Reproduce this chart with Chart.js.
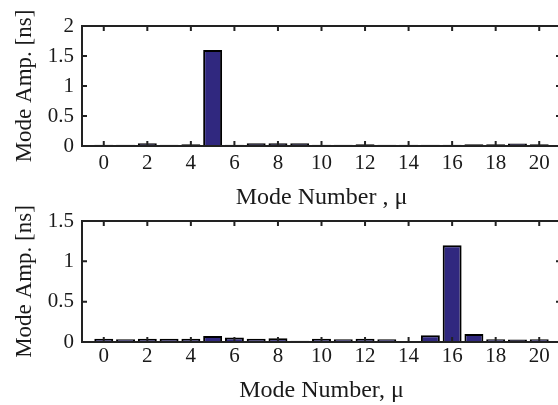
<!DOCTYPE html>
<html>
<head>
<meta charset="utf-8">
<script src="https://cdn.jsdelivr.net/npm/chart.js@4.4.1/dist/chart.umd.min.js"></script>
<style>
  html, body { margin: 0; padding: 0; background: #fff; }
  body { width: 558px; height: 405px; overflow: hidden; position: relative; }
  canvas { position: absolute; left: 0; }
  #chartTop { top: 0; }
  #chartBottom { top: 200px; }
</style>
</head>
<body>
<canvas id="chartTop" width="566" height="215"></canvas>
<canvas id="chartBottom" width="566" height="210"></canvas>
<script>
// mode numbers 0..20
const modes = [0, 1, 2, 3, 4, 5, 6, 7, 8, 9, 10, 11, 12, 13, 14, 15, 16, 17, 18, 19, 20];
// mode amplitudes [ns]
const ampTop = [0.02, 0.02, 0.045, 0.02, 0.03, 1.6, 0.02, 0.045, 0.045, 0.045, 0.02,
                0.02, 0.03, 0.02, 0.02, 0.02, 0.02, 0.03, 0.03, 0.04, 0.03];
const ampBottom = [0.04, 0.035, 0.04, 0.04, 0.04, 0.075, 0.055, 0.04, 0.045, 0.015, 0.04,
                   0.035, 0.04, 0.035, 0.01, 0.085, 1.2, 0.1, 0.035, 0.03, 0.035];
const xTicks = [0, 2, 4, 6, 8, 10, 12, 14, 16, 18, 20];
const yTicksTop = [0, 0.5, 1, 1.5, 2];
const yTicksBottom = [0, 0.5, 1, 1.5];

const textColor = '#1a1a1a';
const axisColor = '#222';
const barColor = '#30287f';

// matlab style box with ticks pointing inward on all four sides
const boxTicks = {
    id: 'boxTicks',
    afterDatasetsDraw(chart) {
        const ctx = chart.ctx;
        const a = chart.chartArea;
        const xs = chart.scales.x, ys = chart.scales.y;
        const len = 5;
        ctx.save();
        ctx.strokeStyle = axisColor;
        ctx.lineWidth = 2;
        ctx.beginPath();
        xs.ticks.forEach(t => {
            const px = xs.getPixelForValue(t.value);
            ctx.moveTo(px, a.bottom); ctx.lineTo(px, a.bottom - len);
            ctx.moveTo(px, a.top); ctx.lineTo(px, a.top + len);
        });
        ys.ticks.forEach(t => {
            const py = ys.getPixelForValue(t.value);
            ctx.moveTo(a.left, py); ctx.lineTo(a.left + len, py);
            ctx.moveTo(a.right, py); ctx.lineTo(a.right - len, py);
        });
        ctx.stroke();
        ctx.strokeRect(a.left, a.top, a.right - a.left, a.bottom - a.top);
        ctx.restore();
    }
};

function makeChart(id, values, yTicks, yMax, xTitle, opts) {
    return new Chart(document.getElementById(id), {
        type: 'bar',
        data: {
            datasets: [{
                data: modes.map((m, i) => ({ x: m, y: values[i] })),
                backgroundColor: barColor,
                borderColor: '#000',
                borderWidth: 2,
                categoryPercentage: 0.87,
                barPercentage: 1
            }]
        },
        options: {
            responsive: false,
            animation: false,
            layout: { padding: { top: opts.top, right: 5, left: 0, bottom: 0 } },
            plugins: { legend: { display: false }, tooltip: { enabled: false } },
            scales: {
                x: {
                    type: 'linear',
                    min: -1,
                    max: 21,
                    offset: false,
                    grid: { display: false, drawTicks: false },
                    border: { display: false },
                    afterBuildTicks: s => { s.ticks = xTicks.map(v => ({ value: v })); },
                    afterFit: s => { s.height = opts.xHeight; },
                    ticks: {
                        color: textColor,
                        padding: opts.xTickPad,
                        maxRotation: 0,
                        autoSkip: false,
                        font: { family: 'Liberation Serif', size: 21 }
                    },
                    title: {
                        display: true,
                        text: xTitle,
                        color: textColor,
                        padding: { top: 0, bottom: opts.xTitlePad },
                        font: { family: 'Liberation Serif', size: 24 }
                    }
                },
                y: {
                    min: 0,
                    max: yMax,
                    grid: { display: false, drawTicks: false },
                    border: { display: false },
                    afterBuildTicks: s => { s.ticks = yTicks.map(v => ({ value: v })); },
                    afterFit: s => { s.width = 82; },
                    ticks: {
                        color: textColor,
                        padding: 8,
                        callback: v => String(v),
                        font: { family: 'Liberation Serif', size: 21 }
                    },
                    title: {
                        display: true,
                        text: 'Mode Amp. [ns]',
                        color: textColor,
                        padding: { top: 11, bottom: 0 },
                        font: { family: 'Liberation Serif', size: 23 }
                    }
                }
            }
        },
        plugins: [boxTicks]
    });
}

makeChart('chartTop', ampTop, yTicksTop, 2, 'Mode Number , μ',
    { top: 26, xHeight: 69, xTickPad: 5, xTitlePad: 3 });
makeChart('chartBottom', ampBottom, yTicksBottom, 1.5, 'Mode Number, μ',
    { top: 21, xHeight: 68, xTickPad: 2, xTitlePad: 5 });
</script>
</body>
</html>
